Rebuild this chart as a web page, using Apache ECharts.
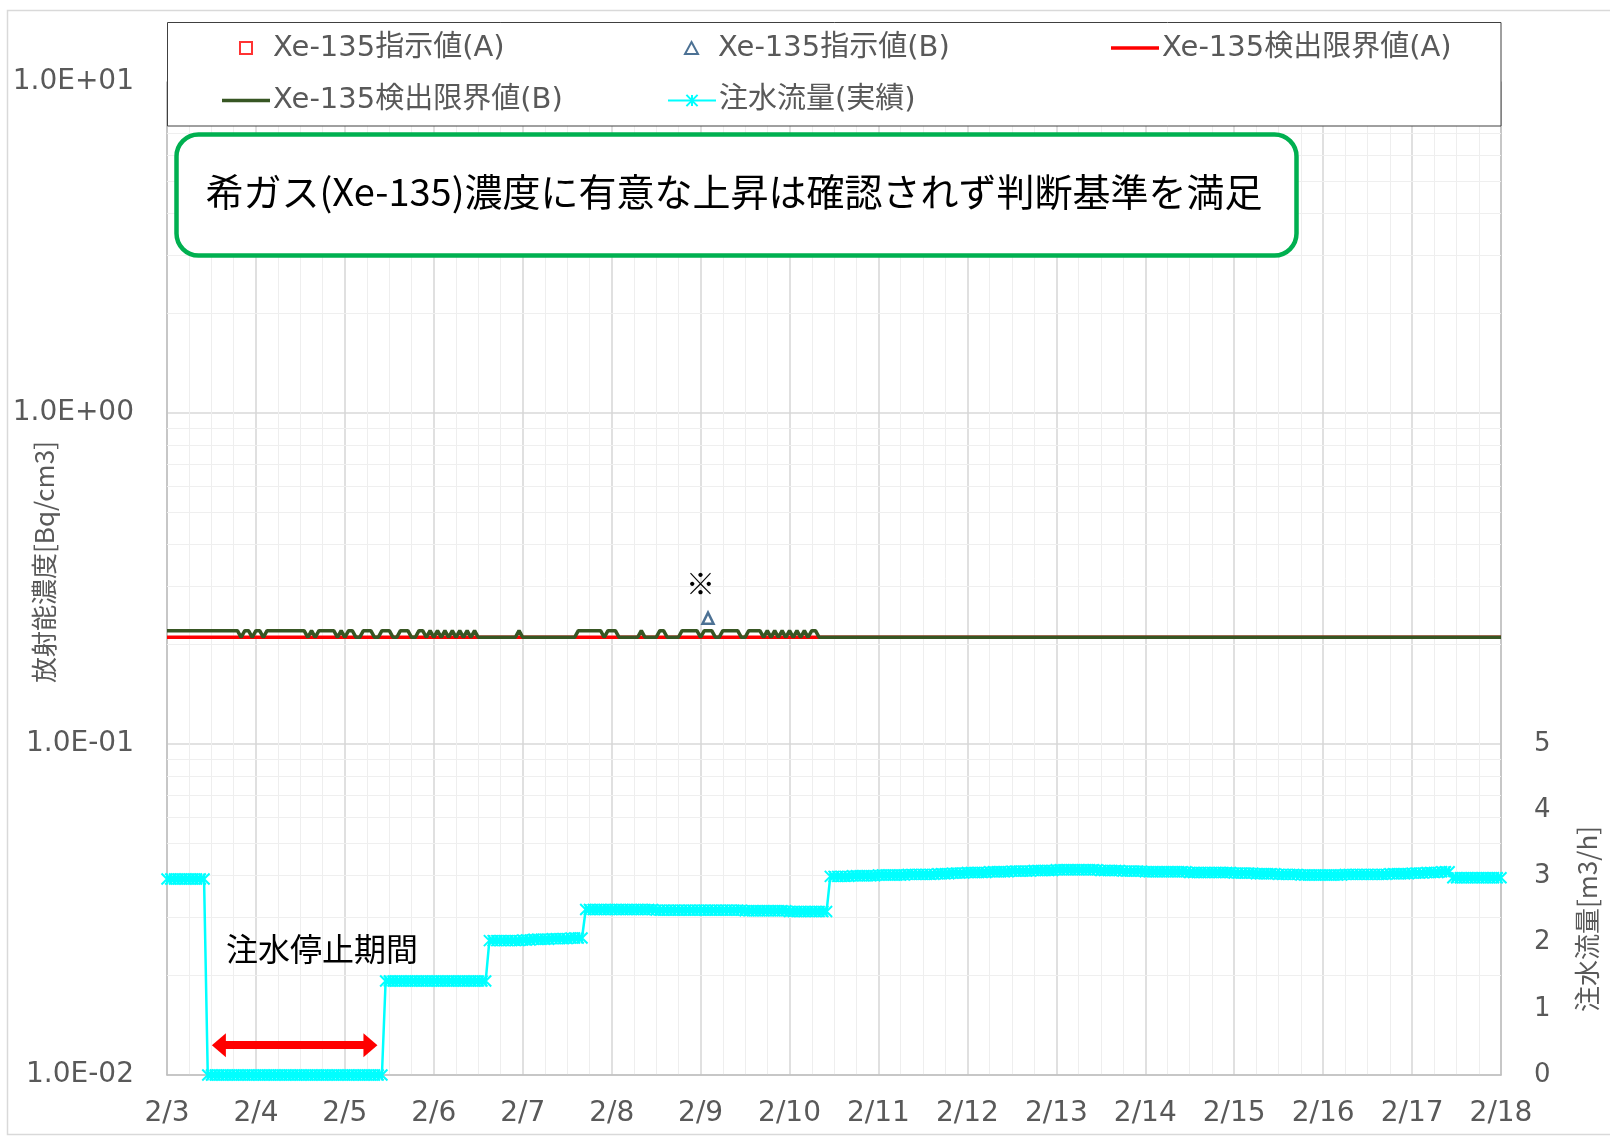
<!DOCTYPE html>
<html>
<head>
<meta charset="utf-8">
<script src="https://cdn.jsdelivr.net/npm/echarts@6/dist/echarts.min.js"></script>
<style>
html,body{margin:0;padding:0;background:#fff;}
#chart{width:1610px;height:1137px;}
</style>
</head>
<body>
<div id="chart"></div>
<script>
// ---------------- data ----------------
// x axis: hours since 2/3 00:00
const xTickLabels = ['2/3','2/4','2/5','2/6','2/7','2/8','2/9','2/10','2/11','2/12','2/13','2/14','2/15','2/16','2/17','2/18'];
const yTickLabels = ['1.0E-02','1.0E-01','1.0E+00','1.0E+01'];   // exponents -2..1
const flowTickLabels = ['0','1','2','3','4','5'];

// Xe-135 indicated values [hour, Bq/cm3]
const xeA = [];
const xeB = [[146, 0.24]];

// detection limits [hour, Bq/cm3]
const limitA = [[0, 0.21], [360, 0.21]];
const U = 0.22, L = 0.21;
const limitB = [
  [0,U],[19,U],[20,L],[21,U],[22,U],[23,L],[24,U],[25,U],[26,L],[27,U],
  [37,U],[38,L],[39,U],[40,L],[41,U],
  [45,U],[46,L],[47,U],[48,L],[49,U],
  [50,U],[51,L],[52,L],[53,U],[55,U],[56,L],[57,L],[58,U],[60,U],[61,L],[62,L],[63,U],[65,U],[66,L],[67,L],[68,U],
  [69,U],[70,L],[71,U],[72,L],[73,U],[74,L],[75,U],[76,L],[77,U],[78,L],[79,U],[80,L],[81,U],[82,L],[83,U],[84,L],
  [94,L],[95,U],[96,L],
  [110,L],[111,U],[117,U],[118,L],[119,U],[121,U],[122,L],
  [127,L],[128,U],[129,L],
  [132,L],[133,U],[134,U],[135,L],
  [138,L],[139,U],[143,U],[144,L],[145,U],[147,U],[148,L],[149,L],[150,U],[154,U],[155,L],[156,L],[157,U],[160,U],
  [161,L],[162,U],[163,L],[164,U],[165,L],[166,U],[167,L],[168,U],[169,L],[170,U],[171,L],[172,U],[173,L],[174,U],[175,U],[176,L],
  [360,L]
];

// injection flow, hourly samples from 2/3 00:00 [m3/h]
const flowHourly = [
  // 2/3
  2.96,2.96,2.96,2.96,2.96,2.96,2.96,2.96,2.96,2.96,2.96,0,0,0,0,0,0,0,0,0,0,0,0,0,
  // 2/4
  0,0,0,0,0,0,0,0,0,0,0,0,0,0,0,0,0,0,0,0,0,0,0,0,
  // 2/5
  0,0,0,0,0,0,0,0,0,0,0,1.42,1.42,1.42,1.42,1.42,1.42,1.42,1.42,1.42,1.42,1.42,1.42,1.42,
  // 2/6
  1.42,1.42,1.42,1.42,1.42,1.42,1.42,1.42,1.42,1.42,1.42,1.42,1.42,1.42,1.42,2.03,2.03,2.03,2.03,2.03,2.03,2.03,2.03,2.03,
  // 2/7
  2.04,2.04,2.04,2.05,2.05,2.05,2.05,2.05,2.06,2.06,2.06,2.06,2.06,2.07,2.07,2.07,2.07,2.50,2.50,2.50,2.50,2.50,2.50,2.50,
  // 2/8
  2.50,2.50,2.50,2.50,2.50,2.50,2.50,2.50,2.50,2.50,2.50,2.50,2.49,2.49,2.49,2.49,2.49,2.49,2.49,2.49,2.49,2.49,2.49,2.49,
  // 2/9
  2.49,2.49,2.49,2.49,2.49,2.49,2.49,2.49,2.49,2.49,2.49,2.49,2.48,2.48,2.48,2.48,2.48,2.48,2.48,2.48,2.48,2.48,2.48,2.48,
  // 2/10
  2.47,2.47,2.47,2.47,2.47,2.47,2.47,2.47,2.47,2.47,2.47,3.00,3.00,3.00,3.00,3.00,3.00,3.01,3.01,3.01,3.01,3.01,3.01,3.01,
  // 2/11
  3.02,3.02,3.02,3.02,3.02,3.02,3.02,3.02,3.03,3.03,3.03,3.03,3.03,3.03,3.03,3.03,3.04,3.04,3.04,3.04,3.05,3.05,3.05,3.05,
  // 2/12
  3.06,3.06,3.06,3.06,3.06,3.06,3.07,3.07,3.07,3.07,3.07,3.07,3.08,3.08,3.08,3.08,3.08,3.08,3.09,3.09,3.09,3.09,3.09,3.09,
  // 2/13
  3.10,3.10,3.10,3.10,3.10,3.10,3.10,3.10,3.10,3.10,3.10,3.10,3.09,3.09,3.09,3.09,3.09,3.09,3.08,3.08,3.08,3.08,3.08,3.08,
  // 2/14
  3.07,3.07,3.07,3.07,3.07,3.07,3.07,3.07,3.07,3.07,3.07,3.07,3.06,3.06,3.06,3.06,3.06,3.06,3.06,3.06,3.06,3.06,3.06,3.06,
  // 2/15
  3.05,3.05,3.05,3.05,3.05,3.05,3.04,3.04,3.04,3.04,3.04,3.04,3.03,3.03,3.03,3.03,3.03,3.03,3.02,3.02,3.02,3.02,3.02,3.02,
  // 2/16
  3.02,3.02,3.02,3.02,3.02,3.02,3.03,3.03,3.03,3.03,3.03,3.03,3.03,3.03,3.03,3.03,3.03,3.03,3.04,3.04,3.04,3.04,3.04,3.04,
  // 2/17
  3.05,3.05,3.05,3.05,3.06,3.06,3.06,3.06,3.07,3.07,3.07,2.98,2.98,2.98,2.98,2.98,2.98,2.98,2.98,2.98,2.98,2.98,2.98,2.98,
  // 2/18 00:00
  2.98
];

// annotation anchors (data coordinates)
const stopArrow = [[14.0, 0.45], [54.9, 0.45]];   // [hour, m3/h]
const stopLabel = [41.8, 1.9];
const noteMark = [144, 0.305];                     // [hour, Bq/cm3]

// ---------------- chart ----------------
const LATIN = '"DejaVu Sans", "Noto Sans CJK JP"';
const CJK = '"Noto Sans CJK JP", sans-serif';
const minorLog = [];
[0.01, 0.1, 1].forEach(d => { for (let m = 2; m <= 9; m++) minorLog.push({ yAxis: +(d * m).toPrecision(3) }); });

const chart = echarts.init(document.getElementById('chart'), null, { renderer: 'canvas' });

const legendText = { fontFamily: LATIN, fontSize: 29, color: '#595959', lineHeight: 30 };
function legendAt(name, left, top, w, h, pad, icon) {
  const l = {
    data: [name], left: left, top: top, padding: 0, orient: 'horizontal',
    itemWidth: w, itemHeight: h, z: 60, selectedMode: false,
    textStyle: Object.assign({}, legendText, { padding: [0, 0, 0, pad] })
  };
  if (icon) l.icon = icon;
  return l;
}

const option = {
  animation: false,
  backgroundColor: '#ffffff',
  grid: { left: 167, right: 109, top: 82, bottom: 62 },
  legend: [
    legendAt('Xe-135指示値(A)', 239, 33, 12, 12, 16),
    legendAt('Xe-135指示値(B)', 684, 33, 13, 12, 15),
    legendAt('Xe-135検出限界値(A)', 1111, 33, 48, 3.5, -2, 'rect'),
    legendAt('Xe-135検出限界値(B)', 222, 85.5, 48, 3.5, -2, 'rect'),
    legendAt('注水流量(実績)', 667, 85.5, 48, 14, -2)
  ],
  xAxis: {
    type: 'value', min: 0, max: 360, interval: 24,
    axisLine: { show: true, lineStyle: { color: '#bfbfbf', width: 1.5 } },
    axisTick: { show: false },
    minorTick: { show: false, splitNumber: 4 },
    splitLine: { show: true, lineStyle: { color: '#d6d6d6', width: 1.5 } },
    minorSplitLine: { show: true, lineStyle: { color: '#eeeeee', width: 1 } },
    axisLabel: {
      margin: 25, fontFamily: LATIN, fontSize: 28, color: '#595959',
      showMinLabel: true, showMaxLabel: true, hideOverlap: false,
      formatter: v => xTickLabels[Math.round(v / 24)]
    }
  },
  yAxis: [
    {
      type: 'log', logBase: 10, min: 0.01, max: 10,
      axisLine: { show: true, lineStyle: { color: '#bfbfbf', width: 1.5 } },
      axisTick: { show: false },
      splitLine: { show: true, lineStyle: { color: '#d9d9d9', width: 1.5 } },
      axisLabel: {
        margin: 33, fontFamily: LATIN, fontSize: 28, color: '#595959',
        padding: [0, 0, 5, 0],
        formatter: v => yTickLabels[Math.round(Math.log10(v)) + 2]
      }
    },
    {
      type: 'value', min: 0, max: 15, interval: 1, position: 'right',
      axisLine: { show: true, lineStyle: { color: '#bfbfbf', width: 1.5 } },
      axisTick: { show: false },
      splitLine: { show: false },
      axisLabel: {
        margin: 33, fontFamily: LATIN, fontSize: 26, color: '#595959',
        formatter: v => (v <= 5 ? flowTickLabels[v] : '')
      }
    }
  ],
  graphic: [
    { type: 'rect', z: 0, silent: true,
      shape: { x: 7.5, y: 10.5, width: 1700, height: 1124 },
      style: { fill: 'none', stroke: '#d9d9d9', lineWidth: 1.5 } },
    { type: 'rect', z: 50, silent: true,
      shape: { x: 167.5, y: 22.5, width: 1333.5, height: 103.5 },
      style: { fill: '#ffffff', stroke: '#404040', lineWidth: 1 } },
    { type: 'rect', z: 50, silent: true,
      shape: { x: 176.5, y: 134.5, width: 1120, height: 121, r: 22 },
      style: { fill: '#ffffff', stroke: '#00B050', lineWidth: 4.5 } },
    { type: 'text', z: 51, silent: true, x: 734, y: 192,
      style: { text: '希ガス(Xe-135)濃度に有意な上昇は確認されず判断基準を満足',
        font: '38px "Noto Sans CJK JP"', fill: '#000000', align: 'center', verticalAlign: 'middle' } },
    { type: 'text', z: 51, silent: true, x: 44, y: 562, rotation: Math.PI / 2,
      style: { text: '放射能濃度[Bq/cm3]', font: '26px "Noto Sans CJK JP"', fill: '#595959',
        align: 'center', verticalAlign: 'middle' } },
    { type: 'text', z: 51, silent: true, x: 1587, y: 919, rotation: Math.PI / 2,
      style: { text: '注水流量[m3/h]', font: '26px "Noto Sans CJK JP"', fill: '#595959',
        align: 'center', verticalAlign: 'middle' } }
  ],
  series: [
    {
      name: 'Xe-135指示値(A)', type: 'scatter', yAxisIndex: 0,
      data: xeA, symbol: 'rect', symbolSize: 10, z: 5,
      itemStyle: { color: 'rgba(0,0,0,0)', borderColor: '#FF0000', borderWidth: 2 }
    },
    {
      name: 'Xe-135指示値(B)', type: 'scatter', yAxisIndex: 0,
      data: xeB, symbol: 'triangle', symbolSize: 11, z: 5,
      itemStyle: { color: 'rgba(0,0,0,0)', borderColor: '#1F4E79', borderWidth: 2.5 },
      markPoint: {
        silent: true, z: 6,
        data: [{ coord: noteMark, symbol: 'circle', symbolSize: 1,
          itemStyle: { color: 'rgba(0,0,0,0)' },
          label: { show: true, position: 'inside', formatter: '※', fontFamily: CJK, fontSize: 29, color: '#000000' } }]
      }
    },
    {
      name: 'Xe-135検出限界値(A)', type: 'line', yAxisIndex: 0,
      data: limitA, symbol: 'none', showSymbol: false, z: 2,
      lineStyle: { color: '#FF0000', width: 3.5 }, itemStyle: { color: '#FF0000' },
      markLine: {
        silent: true, z: 1, symbol: ['none', 'none'], animation: false,
        label: { show: false },
        lineStyle: { color: '#efefef', width: 1.2, type: 'solid' },
        emphasis: { disabled: true },
        data: minorLog
      }
    },
    {
      name: 'Xe-135検出限界値(B)', type: 'line', yAxisIndex: 0,
      data: limitB, symbol: 'none', showSymbol: false, z: 3,
      lineStyle: { color: '#375623', width: 3.5 }, itemStyle: { color: '#375623' }
    },
    {
      name: '注水流量(実績)', type: 'line', yAxisIndex: 1,
      data: flowHourly.map((v, i) => [i, v]),
      symbol: 'path://M0,0L10,10M10,0L0,10M5,0L5,10', symbolSize: [11, 11],
      showSymbol: true, showAllSymbol: true, z: 4, clip: false,
      lineStyle: { color: '#00FFFF', width: 2.5 },
      itemStyle: { color: '#00FFFF', borderColor: '#00FFFF', borderWidth: 2 },
      markLine: {
        silent: true, z: 8, symbol: ['triangle', 'triangle'], symbolSize: [24, 14],
        label: { show: false },
        lineStyle: { color: '#FF0000', width: 8, type: 'solid' },
        itemStyle: { color: '#FF0000' },
        emphasis: { disabled: true },
        data: [[{ coord: stopArrow[0] }, { coord: stopArrow[1] }]]
      },
      markPoint: {
        silent: true, z: 8,
        data: [{ coord: stopLabel, symbol: 'circle', symbolSize: 1,
          itemStyle: { color: 'rgba(0,0,0,0)' },
          label: { show: true, position: 'inside', formatter: '注水停止期間', fontFamily: CJK, fontSize: 32, color: '#000000' } }]
      }
    }
  ]
};
chart.setOption(option);
</script>
</body>
</html>
